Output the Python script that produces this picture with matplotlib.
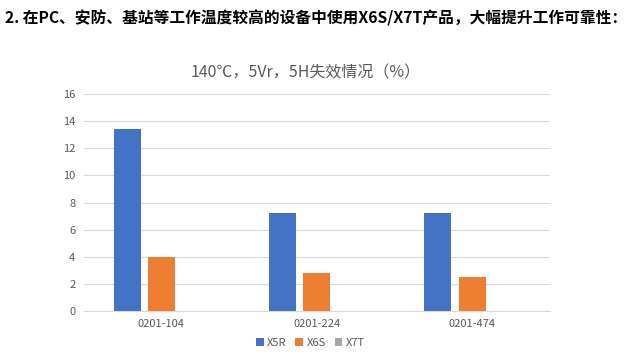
import matplotlib.pyplot as plt
import numpy as np

plt.rcParams['font.family'] = ['Noto Sans CJK SC', 'DejaVu Sans']

BLUE = '#4472C4'
ORNG = '#ED7D31'
GRAY = '#A5A5A5'
TXT = '#595959'

categories = ["0201-104", "0201-224", "0201-474"]
series = ["X5R", "X6S", "X7T"]
x5r = [13.4, 7.2, 7.2]
x6s = [4.0, 2.8, 2.5]
x7t = [0, 0, 0]

fig = plt.figure(figsize=(6.4, 3.62), dpi=100)
ax = fig.add_axes([0.131, 0.141, 0.728, 0.599])

x = np.arange(len(categories))
w = 0.174
step = 0.22
for i, (vals, col, name) in enumerate(zip([x5r, x6s, x7t], [BLUE, ORNG, GRAY], series)):
    ax.bar(x + (i - 1) * step, vals, width=w, color=col, label=name, zorder=3)

ax.set_xlim(-0.5, 2.5)
ax.set_ylim(0, 16)
ax.set_yticks(range(0, 17, 2))
ax.set_xticks(x)
ax.set_xticklabels(categories)
ax.grid(axis='y', color='#D9D9D9', linewidth=0.8, zorder=0)
for s in ['top', 'right', 'left']:
    ax.spines[s].set_visible(False)
ax.spines['bottom'].set_color('#D9D9D9')
ax.tick_params(axis='both', length=0, labelsize=8, colors=TXT, pad=6)

fig.text(0.008, 0.95, "2. 在PC、安防、基站等工作温度较高的设备中使用X6S/X7T产品，大幅提升工作可靠性：",
         fontsize=11.3, fontweight='bold', color='black', va='center')
fig.text(0.478, 0.80, "140℃，5Vr，5H失效情况（%）", fontsize=11.5, color=TXT,
         ha='center', va='center')

handles, labels = ax.get_legend_handles_labels()
fig.legend(handles, labels, loc='center', bbox_to_anchor=(0.485, 0.052), ncol=3,
           frameon=False, fontsize=8, labelcolor=TXT, handlelength=0.7,
           handleheight=0.7, handletextpad=0.3, columnspacing=0.8)

fig.savefig('out.png', dpi=100)
